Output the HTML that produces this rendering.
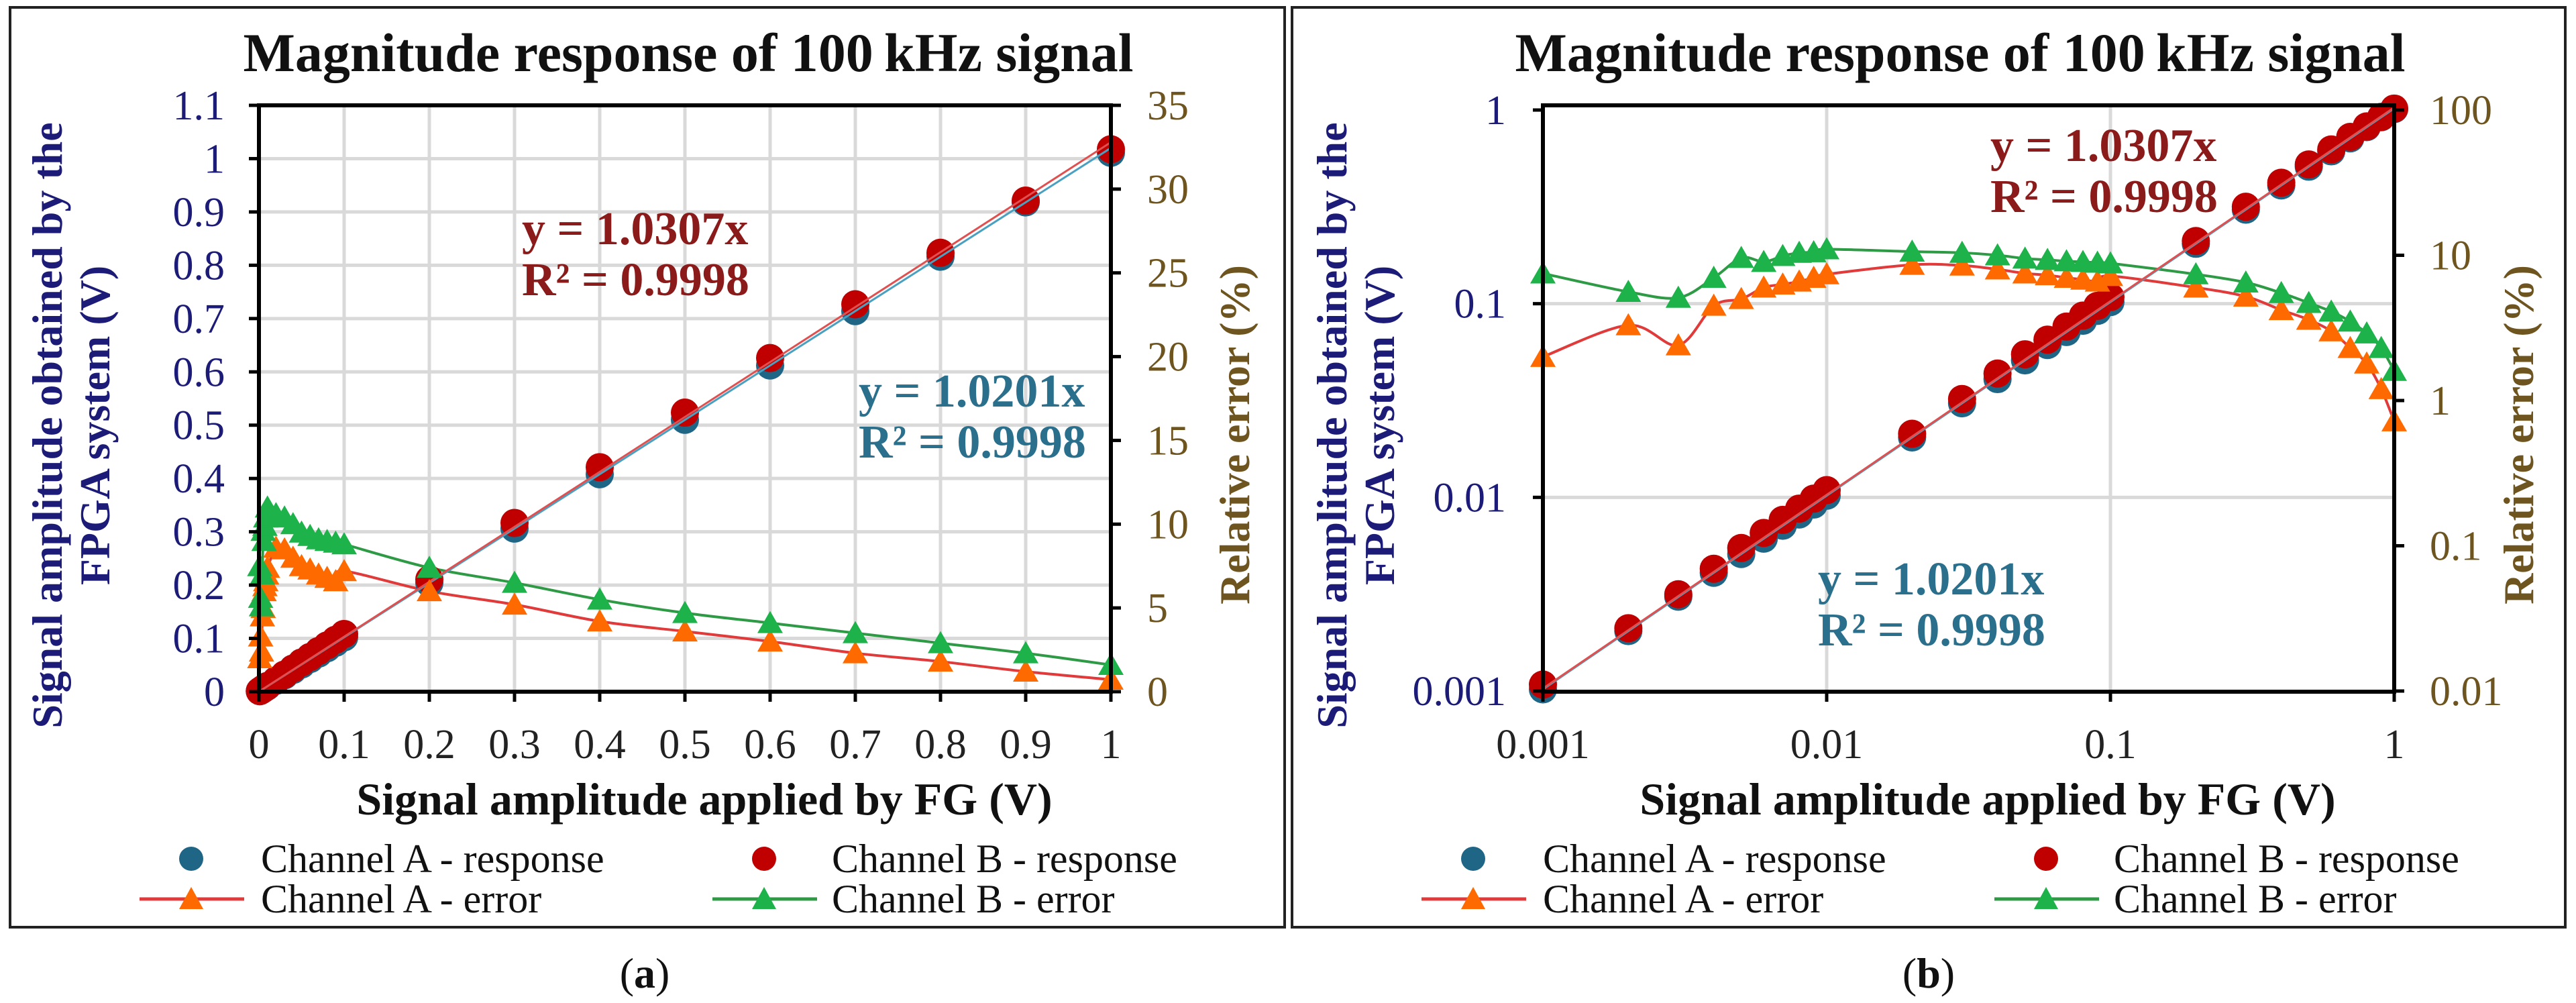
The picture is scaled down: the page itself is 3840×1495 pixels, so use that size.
<!DOCTYPE html>
<html><head><meta charset="utf-8"><style>
html,body{margin:0;padding:0;background:#fff;}
svg{display:block;}
svg text{font-family:"Liberation Serif","Times New Roman",serif;}
</style></head><body>
<svg id="fig" width="3840" height="1495" viewBox="0 0 3840 1495" xmlns="http://www.w3.org/2000/svg" font-family="Liberation Serif, serif"></svg>
<script>
const xVals = [0.001,0.002,0.003,0.004,0.005,0.006,0.007,0.008,0.009,0.01,0.02,0.03,0.04,0.05,0.06,0.07,0.08,0.09,0.1,0.2,0.3,0.4,0.5,0.6,0.7,0.8,0.9,1];
const respA = [0.00102,0.00204,0.00307,0.00408,0.0051,0.00612,0.00714,0.00816,0.00918,0.0102,0.0204,0.0306,0.0408,0.051,0.0612,0.0714,0.0816,0.0918,0.102,0.204,0.306,0.408,0.51,0.612,0.714,0.816,0.918,1.011];
const respB = [0.00108,0.00211,0.00316,0.00428,0.00548,0.00655,0.00765,0.00875,0.00985,0.0109,0.0213,0.0322,0.0436,0.0548,0.0652,0.0762,0.0868,0.0975,0.1083,0.2107,0.3166,0.4212,0.5235,0.626,0.7268,0.8234,0.9213,1.0176];
const errA = [2.0,3.3,2.4,4.5,5.0,6.0,6.3,6.6,7.0,7.4,8.6,8.5,8.0,7.5,7.3,7.0,6.8,6.6,7.2,6.0,5.2,4.2,3.6,3.0,2.3,1.8,1.2,0.72];
const errB = [7.5,5.6,5.1,7.0,9.6,9.0,9.9,10.4,10.5,11.0,10.6,10.4,10.0,9.5,9.3,9.1,9.0,8.9,8.8,7.4,6.5,5.5,4.7,4.1,3.5,2.9,2.3,1.6];
const linTicksL = [0,0.1,0.2,0.3,0.4,0.5,0.6,0.7,0.8,0.9,1,1.1];
const linTicksR = [0,5,10,15,20,25,30,35];
const linTicksX = [0,0.1,0.2,0.3,0.4,0.5,0.6,0.7,0.8,0.9,1];
const logTicksL = [0.001,0.01,0.1,1];
const logTicksR = [0.01,0.1,1,10,100];
const logTicksX = [0.001,0.01,0.1,1];
const slopeA = 1.0201, slopeB = 1.0307;

const NS="http://www.w3.org/2000/svg";
const svg=document.getElementById('fig');
const FF='Liberation Serif, serif';
function el(tag,attrs,parent,text){const e=document.createElementNS(NS,tag);for(const k in attrs)e.setAttribute(k,attrs[k]);if(tag==='text')e.setAttribute('font-family',FF);if(text!==undefined)e.textContent=text;(parent||svg).appendChild(e);return e;}
const NAVY="#1c1c78", BROWN="#6e5520", DRED="#8b1a1a", TEAL="#2a6f8c";
function fmt(v){return String(v);}
function smooth(pts){let d="M"+pts[0][0]+","+pts[0][1];for(let i=0;i<pts.length-1;i++){const p0=pts[Math.max(0,i-1)],p1=pts[i],p2=pts[i+1],p3=pts[Math.min(pts.length-1,i+2)];const t=0.16;d+=" C"+(p1[0]+(p2[0]-p0[0])*t)+","+(p1[1]+(p2[1]-p0[1])*t)+" "+(p2[0]-(p3[0]-p1[0])*t)+","+(p2[1]-(p3[1]-p1[1])*t)+" "+p2[0]+","+p2[1];}return d;}

function panel(c){
  const g=el('g',{});
  
  
  const b=el('rect',{x:c.bx,y:11,width:c.bw,height:1371,fill:'none',stroke:'#222','stroke-width':4},g);
  
  const t=el('text',{x:c.tx,y:106,'font-size':82,'font-weight':'bold','text-anchor':'middle',fill:'#111'},g,'Magnitude response of 100\u2009kHz signal');
  
  const L=c.L,R=c.R,T=c.T,B=c.B;
  c.gridX.forEach(v=>{const x=c.sx(v);const l=el('line',{x1:x,x2:x,y1:T,y2:B,stroke:'#d9d9d9','stroke-width':5},g);});
  c.gridY.forEach(v=>{const y=c.syL(v);const l=el('line',{x1:L,x2:R,y1:y,y2:y,stroke:'#d9d9d9','stroke-width':5},g);});
  const ptsA=xVals.map((x,i)=>[c.sx(x),c.syR(errA[i])]);
  const ptsB=xVals.map((x,i)=>[c.sx(x),c.syR(errB[i])]);
  const la=el('path',{d:smooth(ptsA),fill:'none',stroke:'#e03a3a','stroke-width':4},g);
  const lb=el('path',{d:smooth(ptsB),fill:'none',stroke:'#2f9a45','stroke-width':4},g);
  xVals.forEach((x,i)=>{const d=el('circle',{cx:c.sx(x),cy:c.syL(respA[i]),r:21,fill:'#1f6585'},g);});
  xVals.forEach((x,i)=>{const d=el('circle',{cx:c.sx(x),cy:c.syL(respB[i]),r:21,fill:'#c00000'},g);});
  const x0=c.log?0.001:0, x1=1;
  const ta=el('line',{x1:c.sx(x0),y1:c.syL(Math.max(slopeA*x0,c.log?0.00102:0)),x2:c.sx(x1),y2:c.syL(slopeA*x1),stroke:'#4aa0c0','stroke-width':3},g);
  const tb=el('line',{x1:c.sx(x0),y1:c.syL(Math.max(slopeB*x0,c.log?0.00103:0)),x2:c.sx(x1),y2:c.syL(slopeB*x1),stroke:'#e05050','stroke-width':3},g);
  function tri(x,y,col,nm){const p=el('polygon',{points:(x-19)+","+(y+15)+" "+(x+19)+","+(y+15)+" "+x+","+(y-18),fill:col},g);}
  ptsA.forEach(p=>tri(p[0],p[1],'#ff6a00','channel-a-error-point'));
  ptsB.forEach(p=>tri(p[0],p[1],'#1db24a','channel-b-error-point'));
  const ax=el('rect',{x:L,y:T,width:R-L,height:B-T,fill:'none',stroke:'#000','stroke-width':6},g);
  c.ticksX.forEach(v=>{const x=c.sx(v);el('line',{x1:x,x2:x,y1:B,y2:B+15,stroke:'#000','stroke-width':5},g);
    const tl=el('text',{x:x,y:1130,'font-size':62,'text-anchor':'middle',fill:'#222'},g,fmt(v));});
  c.ticksL.forEach(v=>{const y=c.syL(v);el('line',{x1:L-15,x2:L,y1:y,y2:y,stroke:'#000','stroke-width':5},g);
    const tl=el('text',{x:c.lblL,y:y+21,'font-size':62,'text-anchor':'end',fill:NAVY},g,fmt(v));});
  c.ticksR.forEach(v=>{const y=c.syR(v);el('line',{x1:R,x2:R+15,y1:y,y2:y,stroke:'#000','stroke-width':5},g);
    const tl=el('text',{x:c.lblR,y:y+21,'font-size':62,'text-anchor':'start',fill:BROWN},g,fmt(v));});
  const xt=el('text',{x:c.xtx,y:1214,'font-size':68,'font-weight':'bold','text-anchor':'middle',fill:'#111'},g,'Signal amplitude applied by FG (V)');
  const yt=el('text',{transform:'translate('+c.ylx+',634) rotate(-90)','font-size':64,'font-weight':'bold','text-anchor':'middle',fill:NAVY},g);
  el('tspan',{x:0,y:0},yt,'Signal amplitude obtained by the');el('tspan',{x:0,y:71},yt,'FPGA system (V)');
  const rt=el('text',{transform:'translate('+c.yrx+',648) rotate(-90)','font-size':64,'font-weight':'bold','text-anchor':'middle',fill:BROWN},g,'Relative error (%)');
  function eq(x,y,col,s,nm){const e=el('text',{x:x,y:y,'font-size':70,'font-weight':'bold',fill:col},g,s);}
  eq(c.eqB[0],c.eqB[1],DRED,'y = 1.0307x','channel-b-equation');eq(c.eqB[0],c.eqB[1]+76,DRED,'R\u00b2 = 0.9998','channel-b-r-squared');
  eq(c.eqA[0],c.eqA[1],TEAL,'y = 1.0201x','channel-a-equation');eq(c.eqA[0],c.eqA[1]+76,TEAL,'R\u00b2 = 0.9998','channel-a-r-squared');
  const o=c.bx;
  function leg(mx,tx,y,kind,col,lc,label,nm){const lg=el('g',{},g);
    if(kind==='dot'){el('circle',{cx:mx,cy:y,r:18,fill:col},lg);}else{el('line',{x1:mx-77,x2:mx+79,y1:y,y2:y,stroke:lc,'stroke-width':5},lg);el('polygon',{points:(mx-18)+","+(y+15)+" "+(mx+18)+","+(y+15)+" "+mx+","+(y-18),fill:col},lg);}
    el('text',{x:tx,y:y+20,'font-size':60,fill:'#111'},lg,label);}
  leg(o+270,o+374,1280,'dot','#1f6585',null,'Channel A - response','legend-channel-a-response');
  leg(o+1124,o+1225,1280,'dot','#c00000',null,'Channel B - response','legend-channel-b-response');
  leg(o+270,o+374,1340,'tri','#ff6a00','#e03a3a','Channel A - error','legend-channel-a-error');
  leg(o+1124,o+1225,1340,'tri','#1db24a','#2f9a45','Channel B - error','legend-channel-b-error');
  const cap=el('text',{x:c.capx,y:1472,'font-size':64,'text-anchor':'middle',fill:'#111'},null);
  
  el('tspan',{},cap,'(');el('tspan',{'font-weight':'bold'},cap,c.cap);el('tspan',{},cap,')');
}
(function(){const L=386,R=1656,T=157,B=1031;
panel({name:'linear-chart',bx:15,bw:1900,tx:1026,L,R,T,B,log:false,
 sx:v=>L+(R-L)*v, syL:v=>B-(B-T)*v/1.1, syR:v=>B-(B-T)*v/35,
 gridX:linTicksX.slice(1), gridY:linTicksL.slice(1), ticksX:linTicksX, ticksL:linTicksL, ticksR:linTicksR,
 lblL:335,lblR:1710,xtx:1050,ylx:92,yrx:1862,eqB:[778,364],eqA:[1280,606],capx:961,cap:'a'});})();
(function(){const L=2300,R=3569,T=157,B=1031;const yT=164,yB=1030;
panel({name:'log-chart',bx:1926,bw:1898,tx:2922,L,R,T,B,log:true,
 sx:v=>L+(R-L)*(Math.log10(v)+3)/3, syL:v=>yB-(yB-yT)*(Math.log10(v)+3)/3, syR:v=>yB-(yB-yT)*(Math.log10(v)+2)/4,
 gridX:[0.01,0.1], gridY:[0.01,0.1], ticksX:logTicksX, ticksL:logTicksL, ticksR:logTicksR,
 lblL:2245,lblR:3622,xtx:2963,ylx:2007,yrx:3776,eqB:[2967,240],eqA:[2710,886],capx:2875,cap:'b'});})();
</script>
</body></html>
